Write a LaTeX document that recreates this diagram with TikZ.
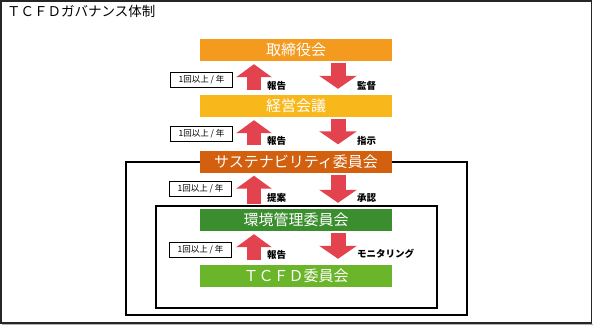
\documentclass[tikz,border=0pt]{standalone}
\usepackage{fontspec}
\setmainfont{Noto Sans CJK JP}
\usetikzlibrary{arrows.meta,calc}
\definecolor{cOrange}{HTML}{F39A1F}
\definecolor{cYellow}{HTML}{F8B81C}
\definecolor{cRust}{HTML}{D2600F}
\definecolor{cGreen}{HTML}{3A8E2E}
\definecolor{cLGreen}{HTML}{6BB52A}
\definecolor{cRed}{HTML}{E2434F}
\tikzset{
  x=1pt,y=-1pt,
  orgbox/.style={minimum width=192pt,minimum height=22pt,inner sep=0pt,text=white,font=\fontsize{15}{15}\selectfont},
  uparrow/.style={draw=cRed,line width=14pt,-{Triangle[width=35pt,length=13pt]}},
  downarrow/.style={draw=cRed,line width=15pt,-{Triangle[width=37pt,length=13pt]}},
  lbl/.style={anchor=west,inner sep=0pt,font=\fontsize{9.5}{9.5}\selectfont\bfseries},
  freq/.style={draw=black,line width=0.9pt,fill=white,minimum width=62pt,minimum height=15pt,inner sep=0pt,font=\fontsize{8.5}{8.5}\selectfont},
  frame/.style={draw=black,line width=2pt}
}
\begin{document}
\begin{tikzpicture}
\useasboundingbox (0,0) rectangle (593,326);
\fill[white] (0,0) rectangle (593,326);
\draw[gray!60,line width=1.5pt] (2,324.5) -- (593,324.5);
\draw[black!85,line width=1.5pt] (1,1) rectangle (591.5,323);
\node[anchor=west,inner sep=0pt,font=\fontsize{13.5}{13.5}\selectfont] (title) at (7,11) {ＴＣＦＤガバナンス体制};
% frames
\draw[frame] (126,162) rectangle (467,315);
\draw[frame] (156,206) rectangle (437,308);
% boxes
\node[orgbox,fill=cOrange] (b1) at (296,50) {取締役会};
\node[orgbox,fill=cYellow] (b2) at (296,106) {経営会議};
\node[orgbox,fill=cRust] (b3) at (296,161.5) {サステナビリティ委員会};
\node[orgbox,fill=cGreen] (b4) at (296,220) {環境管理委員会};
\node[orgbox,fill=cLGreen] (b5) at (296,276) {ＴＣＦＤ委員会};
% arrows
\foreach \lo/\hi/\i in {b2/b1/1,b3/b2/2,b4/b3/3,b5/b4/4}{
  \draw[uparrow] ([xshift=-42pt,yshift=5pt]\lo.north) -- ([xshift=-42pt,yshift=-3pt]\hi.south);
  \draw[downarrow] ([xshift=42pt,yshift=-2pt]\hi.south) -- ([xshift=42pt,yshift=6pt]\lo.north);
}
% labels
\node[lbl] (l1a) at ($(b2.north)+(-29,-9)$) {報告};
\node[lbl] (l1b) at ($(b2.north)+(61,-9)$) {監督};
\node[lbl] (l2a) at ($(b3.north)+(-29,-9)$) {報告};
\node[lbl] (l2b) at ($(b3.north)+(61,-9)$) {指示};
\node[lbl] (l3a) at ($(b4.north)+(-29,-11)$) {提案};
\node[lbl] (l3b) at ($(b4.north)+(61,-11)$) {承認};
\node[lbl] (l4a) at ($(b5.north)+(-29,-10)$) {報告};
\node[lbl] (l4b) at ($(b5.north)+(61,-11)$) {モニタリング};
% frequency boxes
\node[freq] (f1) at (201.5,79.5) {1回以上 / 年};
\node[freq] (f2) at (201.5,134) {1回以上 / 年};
\node[freq] (f3) at (200.5,189) {1回以上 / 年};
\node[freq] (f4) at (200.5,249.5) {1回以上 / 年};
\end{tikzpicture}
\end{document}
